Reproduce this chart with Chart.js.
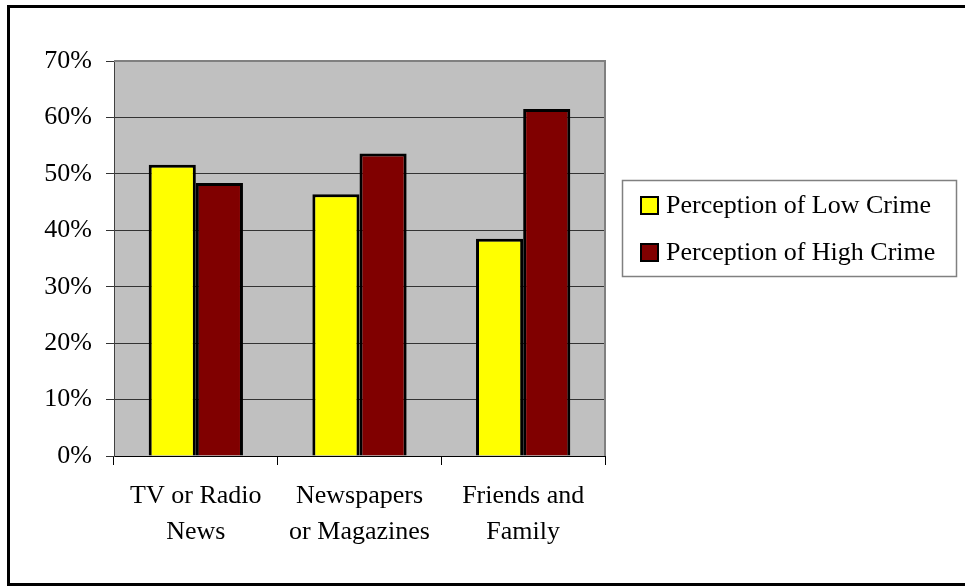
<!DOCTYPE html>
<html>
<head>
<meta charset="utf-8">
<script src="https://cdn.jsdelivr.net/npm/chart.js@4.4.1/dist/chart.umd.min.js"></script>
<style>
  html, body { margin: 0; padding: 0; background: #fff; overflow: hidden; }
  #wrap { position: relative; width: 965px; height: 586px; }
  #chart { position: absolute; left: 0; top: 0; }
  /* outer frame, the right edge runs off the picture */
  #frame { position: absolute; left: 7px; top: 5px; width: 1000px; height: 575px; border: 3px solid #000; pointer-events: none; }
</style>
</head>
<body>
<div id="wrap">
  <canvas id="chart" width="965" height="586"></canvas>
  <div id="frame"></div>
</div>
<script>
// Data
const categories = [["TV or Radio", "News"], ["Newspapers", "or Magazines"], ["Friends and", "Family"]];
const seriesNames = ["Perception of Low Crime", "Perception of High Crime"];
const lowCrime = [51.6, 46.4, 38.5];
const highCrime = [48.4, 53.6, 61.5];
const yTicks = [0, 10, 20, 30, 40, 50, 60, 70];

// Style
const FONT = { family: "'Liberation Serif', 'Times New Roman', serif", size: 26 };
const COLORS = ['#FFFF00', '#800000'];
const PLOT_BG = '#C0C0C0';

// Plot area fill and gray top/right edge
const plotBackground = {
  id: 'plotBackground',
  beforeDraw(chart) {
    const { ctx, chartArea: a } = chart;
    ctx.save();
    ctx.fillStyle = PLOT_BG;
    ctx.fillRect(a.left, a.top, a.right - a.left, a.bottom - a.top);
    ctx.restore();
  },
  afterDraw(chart) {
    const { ctx, chartArea: a } = chart;
    ctx.save();
    ctx.strokeStyle = '#808080';
    ctx.lineWidth = 2;
    ctx.beginPath();
    ctx.moveTo(a.left, a.top);
    ctx.lineTo(a.right, a.top);
    ctx.lineTo(a.right, a.bottom);
    ctx.stroke();
    ctx.restore();
  }
};

// Boxed legend to the right of the plot
const boxLegend = {
  id: 'boxLegend',
  afterDraw(chart) {
    const { ctx, chartArea: a } = chart;
    const left = a.right + 17, top = 180, width = 334, rowGap = 47;
    const height = rowGap * chart.data.datasets.length + 2;
    ctx.save();
    ctx.strokeStyle = '#808080';
    ctx.lineWidth = 1.5;
    ctx.strokeRect(left + 0.5, top + 0.5, width, height);
    ctx.font = `${FONT.size}px ${FONT.family}`;
    ctx.textBaseline = 'middle';
    chart.data.datasets.forEach((ds, i) => {
      const y = top + 25 + i * rowGap;
      ctx.fillStyle = ds.backgroundColor;
      ctx.fillRect(left + 19, y - 8, 17, 17);
      ctx.strokeStyle = '#000';
      ctx.lineWidth = 2;
      ctx.strokeRect(left + 19, y - 8, 17, 17);
      ctx.fillStyle = '#000';
      ctx.fillText(ds.label, left + 44, y + 1);
    });
    ctx.restore();
  }
};

const chart = new Chart(document.getElementById('chart'), {
  type: 'bar',
  data: {
    labels: categories,
    datasets: [
      { label: seriesNames[0], data: lowCrime, backgroundColor: COLORS[0] },
      { label: seriesNames[1], data: highCrime, backgroundColor: COLORS[1] }
    ]
  },
  options: {
    responsive: false,
    animation: false,
    devicePixelRatio: 1,
    layout: { padding: { left: 10, top: 61, right: 360, bottom: 0 } },
    datasets: {
      bar: { borderColor: '#000', borderWidth: 3, categoryPercentage: 0.576, barPercentage: 1 }
    },
    plugins: {
      legend: { display: false },
      tooltip: { enabled: false }
    },
    scales: {
      x: {
        afterFit: s => { s.height = 130; },
        grid: { display: true, drawOnChartArea: false, drawTicks: true, tickLength: 9, color: '#000', offset: true },
        border: { color: '#000', width: 1 },
        ticks: { color: '#000', font: { ...FONT, lineHeight: 1.4 }, padding: 13, maxRotation: 0, autoSkip: false }
      },
      y: {
        min: 0,
        max: 70,
        afterFit: s => { s.width = 104; },
        afterBuildTicks: s => { s.ticks = yTicks.map(v => ({ value: v })); },
        grid: { color: '#333', lineWidth: 1, tickLength: 8, drawTicks: true },
        border: { color: '#404040', width: 1 },
        ticks: { color: '#000', font: FONT, padding: 14, callback: v => v + '%' }
      }
    }
  },
  plugins: [plotBackground, boxLegend]
});
</script>
</body>
</html>
